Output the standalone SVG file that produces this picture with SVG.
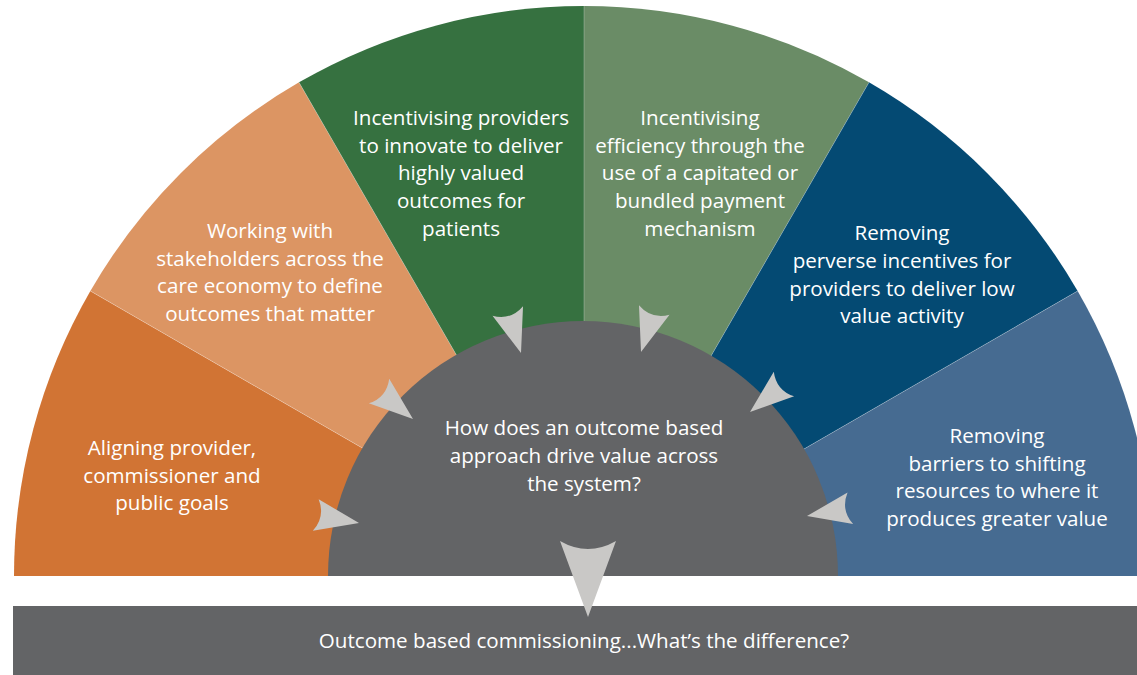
<svg xmlns="http://www.w3.org/2000/svg" width="1137" height="675" viewBox="0 0 1137 675">
  <style>
    .lbl { font-family: "Open Sans", "Liberation Sans", sans-serif; font-size: 20.6px; fill: #ffffff; text-anchor: middle; }
    .seam { stroke: #ffffff; stroke-opacity: 0.25; stroke-width: 1; }
    .head { fill: #c9c8c6; }
  </style>
  <defs>
    <!-- concave-backed arrowhead, tip at origin, pointing along +x -->
    <path id="arrowhead" d="M0,0 L-44,-16 Q-34,0 -44,16 Z"/>
  </defs>
  <rect width="1137" height="675" fill="#ffffff"/>

  <!-- outer fan: six 30° wedges around (584,576), r=570 -->
  <g id="seg-aligning">
    <path d="M584,576 L14,576 A570,570 0 0 1 90.37,291 Z" fill="#d17434"/>
    <text class="lbl" x="172" y="455">Aligning provider,</text>
    <text class="lbl" x="172" y="483">commissioner and</text>
    <text class="lbl" x="172" y="510">public goals</text>
  </g>
  <g id="seg-stakeholders">
    <path d="M584,576 L90.37,291 A570,570 0 0 1 299,82.37 Z" fill="#dc9563"/>
    <text class="lbl" x="270" y="238">Working with</text>
    <text class="lbl" x="270" y="266">stakeholders across the</text>
    <text class="lbl" x="270" y="293">care economy to define</text>
    <text class="lbl" x="270" y="321">outcomes that matter</text>
  </g>
  <g id="seg-innovate">
    <path d="M584,576 L299,82.37 A570,570 0 0 1 584,6 Z" fill="#367140"/>
    <text class="lbl" x="461" y="125">Incentivising providers</text>
    <text class="lbl" x="461" y="152.5">to innovate to deliver</text>
    <text class="lbl" x="461" y="180">highly valued</text>
    <text class="lbl" x="461" y="208">outcomes for</text>
    <text class="lbl" x="461" y="235.5">patients</text>
  </g>
  <g id="seg-efficiency">
    <path d="M584,576 L584,6 A570,570 0 0 1 869,82.37 Z" fill="#6a8c66"/>
    <text class="lbl" x="700" y="125">Incentivising</text>
    <text class="lbl" x="700" y="152.5">efficiency through the</text>
    <text class="lbl" x="700" y="180">use of a capitated or</text>
    <text class="lbl" x="700" y="208">bundled payment</text>
    <text class="lbl" x="700" y="235.5">mechanism</text>
  </g>
  <g id="seg-perverse">
    <path d="M584,576 L869,82.37 A570,570 0 0 1 1077.63,291 Z" fill="#044a73"/>
    <text class="lbl" x="902" y="240">Removing</text>
    <text class="lbl" x="902" y="268">perverse incentives for</text>
    <text class="lbl" x="902" y="296">providers to deliver low</text>
    <text class="lbl" x="902" y="323">value activity</text>
  </g>
  <g id="seg-barriers">
    <path d="M584,576 L1077.63,291 A570,570 0 0 1 1154,576 Z" fill="#466b91"/>
    <text class="lbl" x="997" y="443">Removing</text>
    <text class="lbl" x="997" y="471">barriers to shifting</text>
    <text class="lbl" x="997" y="498">resources to where it</text>
    <text class="lbl" x="997" y="526">produces greater value</text>
  </g>

  <!-- light seams between wedges -->
  <g id="seams">
    <line class="seam" x1="584" y1="576" x2="90.37" y2="291"/>
    <line class="seam" x1="584" y1="576" x2="299" y2="82.37"/>
    <line class="seam" x1="584" y1="576" x2="584" y2="6"/>
    <line class="seam" x1="584" y1="576" x2="869" y2="82.37"/>
    <line class="seam" x1="584" y1="576" x2="1077.63" y2="291"/>
  </g>

  <!-- central question -->
  <g id="hub">
    <path d="M328,576 A255,255 0 0 1 838,576 Z" fill="#636466"/>
    <text class="lbl" x="584" y="435">How does an outcome based</text>
    <text class="lbl" x="584" y="463">approach drive value across</text>
    <text class="lbl" x="584" y="491">the system?</text>
  </g>

  <!-- bottom banner -->
  <g id="banner">
    <rect x="13" y="606" width="1124" height="69" fill="#636466"/>
    <text class="lbl" x="584" y="648">Outcome based commissioning...What’s the difference?</text>
  </g>

  <!-- arrows feeding the hub and the banner -->
  <g id="connectors" class="head">
    <use href="#arrowhead" transform="translate(359,523) rotate(10.5)"/>
    <use href="#arrowhead" transform="translate(413,419) rotate(39.5)"/>
    <use href="#arrowhead" transform="translate(521,353) rotate(72.5)"/>
    <use href="#arrowhead" transform="translate(641,352) rotate(107.5)"/>
    <use href="#arrowhead" transform="translate(750,412) rotate(140.5)"/>
    <use href="#arrowhead" transform="translate(807,516) rotate(170)"/>
    <path d="M588,617 L560,541 Q588,557 616,541 Z"/>
  </g>
</svg>
